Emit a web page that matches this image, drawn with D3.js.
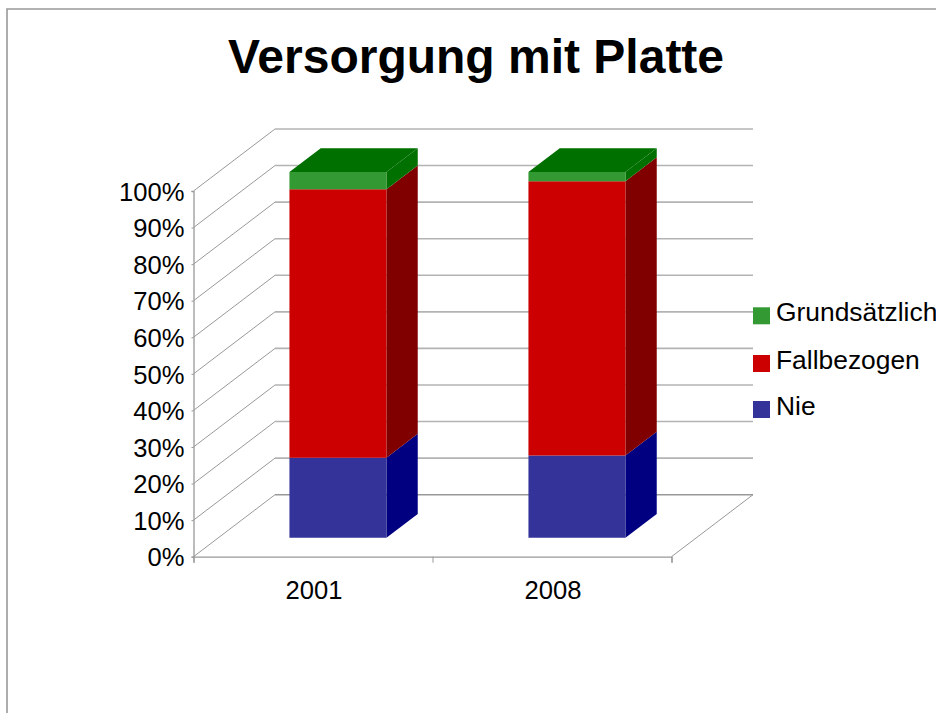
<!DOCTYPE html>
<html>
<head>
<meta charset="utf-8">
<script src="https://cdnjs.cloudflare.com/ajax/libs/d3/7.8.5/d3.min.js"></script>
<style>
body { margin: 0; background: #fff; }
text { font-family: "Liberation Sans", Arial, sans-serif; fill: #000; }
</style>
</head>
<body>
<div id="grafico"></div>
<script>
const title = "Versorgung mit Platte";
const years = ["2001", "2008"];
const seriesNames = ["Nie", "Fallbezogen", "Grundsätzlich"];
const nie = [21.9, 22.5];
const fallbezogen = [73.4, 75.0];
const grundsaetzlich = [4.7, 2.5];
const percentTicks = [0, 10, 20, 30, 40, 50, 60, 70, 80, 90, 100];
const frontColors = ["#333399", "#cc0000", "#339933"];
const sideColors = ["#000080", "#800000", "#007000"];

const WIDTH = 936;
const HEIGHT = 713;

const svg = d3.select("#grafico")
    .append("svg")
    .attr("width", WIDTH)
    .attr("height", HEIGHT)
    .style("display", "block");

// outer frame, runs off the right and bottom edges
svg.append("path")
    .attr("d", "M7,713V9H936")
    .attr("fill", "none")
    .attr("stroke", "#999")
    .attr("stroke-width", 1.6);

svg.append("text")
    .attr("x", 476)
    .attr("y", 73)
    .attr("text-anchor", "middle")
    .style("font-size", "48px")
    .style("font-weight", "bold")
    .text(title);

const y = d3.scaleLinear().domain([0, 100]).range([556.7, 191]);
const x = d3.scaleBand().domain(years).range([193.5, 671.5]);
const xEdges = d3.scaleLinear().domain([0, years.length]).range([193.5, 671.5]);

// depth goes from the front plane (0) to the back wall (1)
const depthX = d3.scaleLinear().domain([0, 1]).range([0, 81.5]);
const depthY = d3.scaleLinear().domain([0, 1]).range([0, -62]);
const barFront = 0.306;
const barBack = 0.69;
const barWidth = 97;

const grid = svg.append("g");

// back wall
grid.selectAll(".wall")
    .data(percentTicks)
    .enter()
    .append("line")
    .attr("class", "wall")
    .attr("x1", xEdges(0) + depthX(1))
    .attr("x2", xEdges(years.length) + depthX(1))
    .attr("y1", d => y(d) + depthY(1))
    .attr("y2", d => y(d) + depthY(1))
    .attr("stroke", d => d === 0 ? "#999" : "#b3b3b3")
    .attr("stroke-width", 1.6);

// left wall
grid.selectAll(".side")
    .data(percentTicks)
    .enter()
    .append("line")
    .attr("class", "side")
    .attr("x1", xEdges(0))
    .attr("x2", xEdges(0) + depthX(1))
    .attr("y1", d => y(d))
    .attr("y2", d => y(d) + depthY(1))
    .attr("stroke", "#999")
    .attr("stroke-width", 1);

// floor edge on the right
grid.append("line")
    .attr("x1", xEdges(years.length))
    .attr("x2", xEdges(years.length) + depthX(1))
    .attr("y1", y(0))
    .attr("y2", y(0) + depthY(1))
    .attr("stroke", "#999")
    .attr("stroke-width", 1);

const yAxis = d3.axisLeft(y)
    .tickValues(percentTicks)
    .tickFormat(d => d + "%")
    .tickSize(2)
    .tickPadding(7);

const yG = svg.append("g")
    .attr("transform", "translate(" + xEdges(0) + ",0)")
    .call(yAxis);
yG.selectAll("text").style("font-size", "25.6px").attr("dy", "0.36em");
yG.selectAll("line").attr("stroke", "#999");
yG.select(".domain").attr("stroke", "#999").attr("stroke-width", 1.3);

const xTicks = d3.axisBottom(xEdges)
    .tickValues(d3.range(years.length + 1))
    .tickFormat("")
    .tickSizeOuter(0)
    .tickSize(6);

const xTickG = svg.append("g")
    .attr("transform", "translate(0," + y(0) + ")")
    .call(xTicks);
xTickG.selectAll("line").attr("stroke", "#999");
xTickG.select(".domain").attr("stroke", "#999").attr("stroke-width", 1.3);

const xLabels = d3.axisBottom(x).tickSize(0).tickPadding(24);
const xLabelG = svg.append("g")
    .attr("transform", "translate(1," + y(0) + ")")
    .call(xLabels);
xLabelG.select(".domain").remove();
xLabelG.selectAll("text").style("font-size", "25.6px");

// stack the three series
const table = years.map((year, i) => ({ year: year, values: [nie[i], fallbezogen[i], grundsaetzlich[i]] }));

function point(xFront, value, depth) {
    return [xFront + depthX(depth), y(value) + depthY(depth)];
}

function poly(points) {
    return points.map(p => p.join(",")).join(" ");
}

const bars = svg.selectAll(".bar")
    .data(table)
    .enter()
    .append("g")
    .attr("class", "bar");

bars.each(function (d) {
    const g = d3.select(this);
    const left = x(d.year) + x.bandwidth() / 2 - barWidth / 2;
    const right = left + barWidth;
    let base = 0;
    d.values.forEach((v, s) => {
        const top = base + v;
        g.append("polygon")
            .attr("points", poly([
                point(right, base, barFront), point(right, base, barBack),
                point(right, top, barBack), point(right, top, barFront)
            ]))
            .attr("fill", sideColors[s]);
        g.append("polygon")
            .attr("points", poly([
                point(left, base, barFront), point(right, base, barFront),
                point(right, top, barFront), point(left, top, barFront)
            ]))
            .attr("fill", frontColors[s]);
        base = top;
    });
    g.append("polygon")
        .attr("points", poly([
            point(left, base, barFront), point(right, base, barFront),
            point(right, base, barBack), point(left, base, barBack)
        ]))
        .attr("fill", sideColors[2]);
});

// legend, top entry is the last series
const legendRows = d3.scaleOrdinal().domain(seriesNames).range([401, 355, 307.3]);
const legend = svg.selectAll(".legend")
    .data(seriesNames)
    .enter()
    .append("g")
    .attr("class", "legend");

legend.append("rect")
    .attr("x", 753)
    .attr("y", d => legendRows(d))
    .attr("width", 17)
    .attr("height", 17)
    .attr("fill", (d, i) => frontColors[i]);

legend.append("text")
    .attr("x", 776)
    .attr("y", d => legendRows(d) + 13.5)
    .style("font-size", "26.4px")
    .text(d => d);
</script>
</body>
</html>
